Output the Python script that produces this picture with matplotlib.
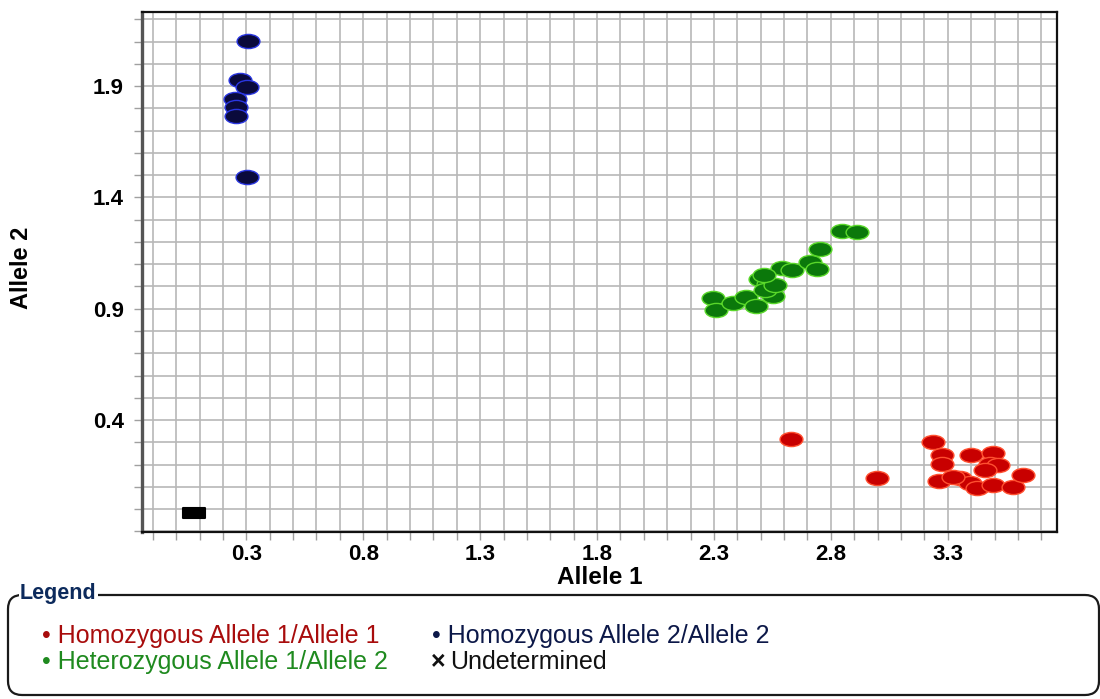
import numpy as np
import matplotlib
matplotlib.use('Agg')
import matplotlib.pyplot as plt
from matplotlib.path import Path
from matplotlib.patches import FancyBboxPatch
from matplotlib.ticker import MultipleLocator, FixedLocator

plt.rcParams['font.family'] = ['Liberation Sans', 'DejaVu Sans']

# genotype calls: allele 1 signal (x) vs allele 2 signal (y)
hom1_x = [2.629, 2.997, 3.236, 3.274, 3.274, 3.262, 3.399, 3.493, 3.480,
          3.514, 3.459, 3.352, 3.394, 3.424, 3.493, 3.578, 3.621, 3.322]
hom1_y = [0.314, 0.139, 0.301, 0.243, 0.202, 0.126, 0.243, 0.252, 0.202,
          0.198, 0.175, 0.139, 0.117, 0.094, 0.108, 0.099, 0.153, 0.144]

het_x = [2.295, 2.308, 2.381, 2.436, 2.479, 2.496, 2.530, 2.551, 2.590,
         2.633, 2.710, 2.740, 2.753, 2.847, 2.911, 2.518, 2.561, 2.513]
het_y = [0.948, 0.894, 0.925, 0.952, 0.912, 1.033, 1.011, 0.957, 1.083,
         1.074, 1.110, 1.078, 1.168, 1.249, 1.244, 0.984, 1.006, 1.051]

hom2_x = [0.309, 0.273, 0.302, 0.252, 0.256, 0.256, 0.302]
hom2_y = [2.102, 1.927, 1.894, 1.840, 1.807, 1.767, 1.490]

undet_x = [0.077]
undet_y = [-0.016]

tick_vals = [0.3, 0.8, 1.3, 1.8, 2.3, 2.8, 3.3]
ytick_vals = [0.4, 0.9, 1.4, 1.9]

# flattened ellipse and bar markers
oval = Path.unit_circle().transformed(
    matplotlib.transforms.Affine2D().scale(1.0, 0.62))
bar = Path([(-1, -0.5), (1, -0.5), (1, 0.5), (-1, 0.5), (-1, -0.5)],
           [Path.MOVETO, Path.LINETO, Path.LINETO, Path.LINETO, Path.CLOSEPOLY])

fig = plt.figure(figsize=(11, 6.99), dpi=100)
ax = fig.add_axes([142 / 1100, 1 - 532 / 699, (1057 - 142) / 1100, (532 - 12) / 699])

ax.set_xlim(-0.146, 3.767)
ax.set_ylim(-0.103, 2.233)

ax.xaxis.set_major_locator(FixedLocator(tick_vals))
ax.yaxis.set_major_locator(FixedLocator(ytick_vals))
ax.xaxis.set_minor_locator(MultipleLocator(0.1))
ax.yaxis.set_minor_locator(MultipleLocator(0.1))
ax.grid(True, which='both', color='#b8b8b8', lw=1.2, zorder=0)
ax.set_axisbelow(True)

ax.tick_params(which='both', direction='out', length=6, width=1, color='#a0a0a0')
ax.tick_params(axis='x', pad=3)
ax.tick_params(axis='y', pad=7)
ax.set_xticklabels(['%.1f' % v for v in tick_vals], fontweight='bold', fontsize=16)
ax.set_yticklabels(['%.1f' % v for v in ytick_vals], fontweight='bold', fontsize=16)

for side in ['top', 'right', 'bottom']:
    ax.spines[side].set_color('#111111')
    ax.spines[side].set_linewidth(1.6)
ax.spines['left'].set_color('#555555')
ax.spines['left'].set_linewidth(2.4)

ax.scatter(hom1_x, hom1_y, marker=oval, s=270, c='#c80000',
           edgecolors='#ff5030', linewidths=1, zorder=3)
ax.scatter(het_x, het_y, marker=oval, s=270, c='#0b780b',
           edgecolors='#5ad82a', linewidths=1, zorder=3)
ax.scatter(hom2_x, hom2_y, marker=oval, s=270, c='#0a0a3c',
           edgecolors='#2a36e0', linewidths=1, zorder=3)
ax.scatter(undet_x, undet_y, marker=bar, s=240, c='black',
           edgecolors='black', linewidths=1.5, zorder=3)

ax.set_xlabel('Allele 1', fontsize=17.5, fontweight='bold')
ax.xaxis.set_label_coords(0.5, (532 - 578) / 520)
ax.xaxis.label.set_va('center')
ax.set_ylabel('Allele 2', fontsize=17, fontweight='bold')
ax.yaxis.set_label_coords((22 - 142) / 915, 1 - (268 - 12) / 520)
ax.yaxis.label.set_va('center')

# legend panel drawn in pixel coordinates
lg = fig.add_axes([0, 0, 1, 1], zorder=5)
lg.set_xlim(0, 1100)
lg.set_ylim(699, 0)
lg.axis('off')
lg.patch.set_alpha(0)

box = FancyBboxPatch((8, 595), 1091, 100, boxstyle='round,pad=0,rounding_size=14',
                     fc='none', ec='#1a1a1a', lw=1.6)
lg.add_patch(box)
lg.text(20, 594, 'Legend', fontsize=15.5, fontweight='bold', color='#0c2a5c',
        ha='left', va='center',
        bbox=dict(fc='white', ec='none', pad=1.0))

entries = [
    (42, 636, '\u2022 Homozygous Allele 1/Allele 1', '#a80c0c'),
    (42, 662, '\u2022 Heterozygous Allele 1/Allele 2', '#1f8a1f'),
    (432, 636, '\u2022 Homozygous Allele 2/Allele 2', '#0c1848'),
]
for ex, ey, label, col in entries:
    lg.text(ex, ey, label, fontsize=18, color=col, ha='left', va='center')
lg.text(431, 662, '\u00d7', fontsize=18, fontweight='bold', color='#111111',
        ha='left', va='center')
lg.text(450, 662, 'Undetermined', fontsize=18, color='#111111',
        ha='left', va='center')

fig.savefig('out.png', dpi=100)
